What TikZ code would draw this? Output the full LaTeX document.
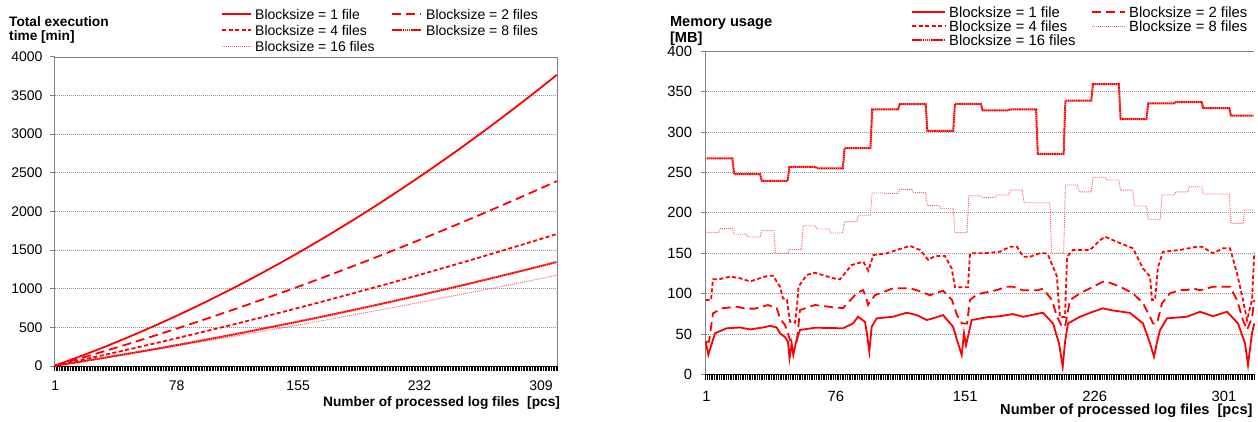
\documentclass[tikz,border=0pt]{standalone}
\usepackage{fontspec}
\setmainfont{Liberation Sans}
\definecolor{pinkred}{RGB}{255,95,95}
\definecolor{gridgray}{RGB}{150,150,150}
\definecolor{framegray}{RGB}{128,128,128}
\begin{document}
\begin{tikzpicture}[x=1pt,y=-1pt,
  lbl/.style={font=\fontsize{14}{16}\selectfont, inner sep=0pt},
  lblR/.style={font=\fontsize{14.8}{17}\selectfont, inner sep=0pt},
  ttl/.style={font=\bfseries\fontsize{13.7}{16}\selectfont, inner sep=0pt, anchor=base west},
  ttlR/.style={font=\bfseries\fontsize{14.6}{17}\selectfont, inner sep=0pt, anchor=base west},
  gridl/.style={gridgray, line width=0.8pt, dash pattern=on 1pt off 1pt},
  frame/.style={framegray, line width=0.8pt},
  yaxis/.style={framegray, line width=1.4pt},
  tickm/.style={black, line width=0.6pt},
  s1/.style={red, line width=1.8pt},
  s2/.style={red, line width=1.8pt, dash pattern=on 9pt off 5pt},
  s4/.style={red, line width=1.8pt, dash pattern=on 4pt off 2.5pt},
  sA/.style={red, line width=2pt, dash pattern=on 1.6pt off 0.5pt},
  sB/.style={pinkred, line width=0.9pt, dash pattern=on 1pt off 1pt},
]
\useasboundingbox (0,0) rectangle (1258,421);

% ================= Left chart: total execution time =================
% grid
\foreach \v in {500,1000,...,3500}
  \draw[gridl] (54.5,{366-0.07733*\v}) -- (557.5,{366-0.07733*\v});
% frame and axes
\draw[frame] (54.5,57) -- (557.5,57) -- (557.5,366);
\draw[yaxis] (54.5,57) -- (54.5,366);
\foreach \v in {0,500,...,4000} {
  \draw[frame] (50,{366-0.07733*\v}) -- (54.5,{366-0.07733*\v});
  \node[lbl, anchor=east] (ly\v) at (42.7,{366-0.07733*\v}) {\v};
}
\foreach \i in {0,...,319}
  \draw[tickm] ({54.5+1.577*\i},366) -- ({54.5+1.577*\i},370.5);
\draw[black, line width=0.8pt] (54.5,366) -- (557.5,366);
\foreach \k in {1,78,155,232,309}
  \node[lbl] (lx\k) at ({54.5+(\k-0.5)*1.577},386) {\k};

% curves
\begin{scope}[shift={(53.71pt,-366pt)}, x=1.577pt, y=0.07733pt]
  \draw[sB] plot[domain=1:319, samples=90] (\x,{3.186*\x+0.001547*\x*\x});
  \draw[sA] plot[domain=1:319, samples=90] (\x,{3.219*\x+0.003125*\x*\x});
  \draw[s4] plot[domain=1:319, samples=90] (\x,{4.367*\x+0.00308*\x*\x});
  \draw[s2] plot[domain=1:319, samples=90] (\x,{5.79*\x+0.00534*\x*\x});
  \draw[s1] plot[domain=1:319, samples=90] (\x,{7.21*\x+0.01439*\x*\x});
\end{scope}

% titles
\node[ttl] (ltitle1) at (9,26) {Total execution};
\node[ttl] (ltitle2) at (9,40.7) {time [min]};
\node[ttl] (lxtitle) at (323,406) {Number of processed log files\ \ [pcs]};

% legend
\draw[s1] (222,14) -- (251,14);
\node[lbl, anchor=west] (lg1) at (255,14) {Blocksize = 1 file};
\draw[s2] (392,14) -- (421,14);
\node[lbl, anchor=west] (lg2) at (426,14) {Blocksize = 2 files};
\draw[s4] (222,30) -- (251,30);
\node[lbl, anchor=west] (lg4) at (255,30) {Blocksize = 4 files};
\draw[sA] (392,30) -- (421,30);
\node[lbl, anchor=west] (lg8) at (426,30) {Blocksize = 8 files};
\draw[sB] (222,46.5) -- (251,46.5);
\node[lbl, anchor=west] (lg16) at (255,46.5) {Blocksize = 16 files};

% ================= Right chart: memory usage =================
\foreach \v in {50,100,...,350}
  \draw[gridl] (705.7,{374.3-0.8075*\v}) -- (1254.3,{374.3-0.8075*\v});
\draw[frame] (705.7,51) -- (1254.3,51);
\draw[yaxis] (705.7,51) -- (705.7,374.3);
\foreach \v in {0,50,...,400} {
  \draw[frame] (701,{374.3-0.8075*\v}) -- (705.7,{374.3-0.8075*\v});
  \node[lblR, anchor=east] (ry\v) at (692.3,{374.3-0.8075*\v}) {\v};
}
\foreach \i in {0,...,318}
  \draw[tickm] ({705.7+1.725*\i},374.3) -- ({705.7+1.725*\i},379.5);
\draw[black, line width=0.8pt] (705.7,374.3) -- (1254.3,374.3);
\foreach \k in {1,76,151,226,301}
  \node[lblR] (rx\k) at ({705.7+(\k-0.5)*1.725},396) {\k};

% block-wise series (index = log file number)
\begin{scope}[shift={(704.84pt,-374.3pt)}, x=1.725pt, y=0.8075pt]
  \draw[sB] (1,175.8)
    \foreach \b/\v in {0/175.8,1/180.5,2/173.5,3/170,4/178,5/149.8,6/154.5,7/184,
      8/180,9/175,10/189,11/197,12/224.5,13/224,14/229,15/225,16/209,17/205,
      18/175.4,19/221,20/219,21/222,22/228,23/212.5,24/212.5,25/150,26/234.4,
      27/226,28/244,29/240.6,30/228,31/208.4,32/192,33/222,34/226,35/232.3,
      36/223.3,37/223.3,38/187,39/203.5}
    { -- ({8*\b+1},\v) -- ({min(8*\b+8,318)},\v) };
  \draw[sA] (1,267.4)
    \foreach \b/\v in {0/267.4,1/248,2/239.6,3/257,4/255,5/280,6/328,7/334.5,
      8/301.5,9/335,10/327,11/328,12/273,13/339,14/359.5,15/316,16/335.5,
      17/337,18/329.5,19/320.5}
    { -- ({16*\b+1},\v) -- ({min(16*\b+16,318)},\v) };
\end{scope}

% smaller block sizes (abscissa in picture units)
\begin{scope}[shift={(0pt,-374.3pt)}, x=1pt, y=0.8075pt]
  \draw[s4] (705.7,92) -- (711,92) -- (713,117.6) -- (720,118) -- (730,121) -- (740,119)
    -- (750,115) -- (760,119) -- (768,122) -- (773,122) -- (780,108.5) -- (783,94)
    -- (787,92) -- (790,65) -- (795,64) -- (797,85) -- (798.5,108.5) -- (806.7,123)
    -- (815,125.8) -- (833,119) -- (840,117.6) -- (851.7,135.4) -- (863.3,139.5)
    -- (868.3,128.3) -- (873.3,147.7) -- (886.7,149.8) -- (896.7,154) -- (910,159)
    -- (920,154) -- (928.3,141.5) -- (935,146.5) -- (945,146.5) -- (951.7,131)
    -- (955,107.7) -- (968,107.7) -- (970,149.8) -- (985,150) -- (1000,151.8)
    -- (1010,158) -- (1017,158) -- (1023,145.6) -- (1030,145.6) -- (1040,150)
    -- (1045,150) -- (1048,148) -- (1057,121) -- (1058,100) -- (1060,71) -- (1065,71)
    -- (1067,145.6) -- (1073,154) -- (1090,154) -- (1100,166) -- (1105,170.4)
    -- (1117,164) -- (1133,156) -- (1143,131) -- (1150,121) -- (1152,92) -- (1155,92)
    -- (1158,133) -- (1163,151.8) -- (1180,154) -- (1197,158) -- (1202,158)
    -- (1213,149.8) -- (1223,156) -- (1230,156) -- (1237,125) -- (1243,92)
    -- (1247,67) -- (1252,92) -- (1254.3,150.6);
  \draw[s2] (705.7,40.4) -- (709,40.4) -- (713,75.5) -- (721.7,81.7) -- (737,83.7)
    -- (745,81.4) -- (755,81.3) -- (768,85.8) -- (776.7,82) -- (780,69.3) -- (785,61)
    -- (788,50.7) -- (790,42) -- (797,42) -- (800,79.6) -- (815,85.8) -- (833,83)
    -- (843,82) -- (856.7,100.3) -- (863,104.4) -- (866,96) -- (868,86) -- (870,90)
    -- (875,98) -- (893,106.5) -- (910,106.5) -- (917,104) -- (930,98) -- (943,103.5)
    -- (952,92) -- (957,73.4) -- (962,63) -- (967,63) -- (970,92) -- (977,99)
    -- (997,104.4) -- (1007,108.5) -- (1013,108.5) -- (1023,104) -- (1037,104)
    -- (1043,106) -- (1052,92) -- (1057,71.3) -- (1062,59) -- (1065,59) -- (1070,92)
    -- (1080,100.3) -- (1090,106.5) -- (1103,114.7) -- (1107,114.7) -- (1120,108.5)
    -- (1133,100.3) -- (1143,88) -- (1150,71.3) -- (1153,63) -- (1157,63) -- (1162,88)
    -- (1170,100.3) -- (1180,104.4) -- (1187,104.4) -- (1193,106.5) -- (1200,104)
    -- (1213,108.5) -- (1230,108.5) -- (1237,92) -- (1243,67) -- (1247,55) -- (1252,70)
    -- (1254.3,92);
  \draw[s1] (705.7,40.4) -- (708.3,24) -- (711,35) -- (715,50.8) -- (726.7,57) -- (740,58)
    -- (750,55.6) -- (763,58) -- (770,60) -- (776.7,58) -- (780,50.8) -- (785,46)
    -- (788,40) -- (789.5,19.8) -- (791.7,38) -- (793.3,24) -- (796,40) -- (800,54.9)
    -- (815,57.7) -- (843,57) -- (853,63) -- (858,71.3) -- (865,65) -- (867,50)
    -- (869.3,28) -- (871.7,59) -- (876.7,69.3) -- (893,71.3) -- (906.7,76.3)
    -- (916.7,73.3) -- (926.7,67.2) -- (933,69.3) -- (943,73.3) -- (953,59) -- (958,38.4)
    -- (961.7,24) -- (964,50.8) -- (966,36) -- (971.7,67.2) -- (986.7,70.6) -- (1000,72)
    -- (1013,74.6) -- (1023,71.3) -- (1043,76.3) -- (1053,63) -- (1059,38.4)
    -- (1062.7,9.4) -- (1065,40) -- (1068,63) -- (1080,71.3) -- (1093,77.5)
    -- (1103,81.7) -- (1113,79) -- (1130,76) -- (1143,63) -- (1150,38.4) -- (1154,21.8)
    -- (1157,40) -- (1160,54.9) -- (1167,69.3) -- (1187,71.3) -- (1200,77.5)
    -- (1213,72) -- (1227,77.5) -- (1238,63) -- (1245,38.4) -- (1248,11.5) -- (1252,51)
    -- (1254.3,63);
\end{scope}

% titles
\node[ttlR] (rtitle1) at (669.8,26) {Memory usage};
\node[ttlR] (rtitle2) at (669.8,42.3) {[MB]};
\node[ttlR] (rxtitle) at (1000,414.5) {Number of processed log files\ \ [pcs]};

% legend
\draw[s1] (912,12) -- (945,12);
\node[lblR, anchor=west] (rg1) at (949,12) {Blocksize = 1 file};
\draw[s2] (1092,12) -- (1125,12);
\node[lblR, anchor=west] (rg2) at (1129,12) {Blocksize = 2 files};
\draw[s4] (912,26) -- (945,26);
\node[lblR, anchor=west] (rg4) at (949,26) {Blocksize = 4 files};
\draw[sB] (1092,26) -- (1125,26);
\node[lblR, anchor=west] (rg8) at (1129,26) {Blocksize = 8 files};
\draw[sA] (912,40.2) -- (945,40.2);
\node[lblR, anchor=west] (rg16) at (949,40.2) {Blocksize = 16 files};
\end{tikzpicture}
\end{document}
